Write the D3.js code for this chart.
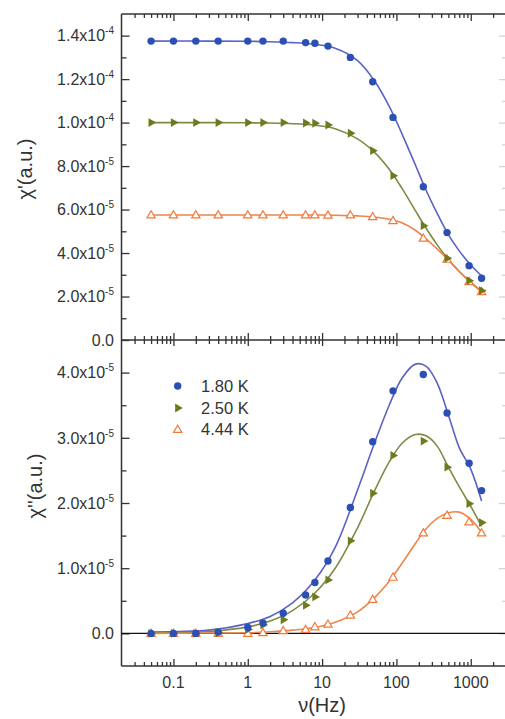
<!DOCTYPE html>
<html>
<head>
<meta charset="utf-8">
<script src="https://cdn.jsdelivr.net/npm/d3@7"></script>
<style>
  body { margin: 0; background: #fff; }
  text { font-family: "Liberation Sans", Arial, sans-serif; fill: #333; }
</style>
</head>
<body>
<svg id="chart" width="505" height="719"></svg>
<script>
// Measured frequencies (Hz)
const freqs = [0.05, 0.1, 0.2, 0.4, 1, 1.6, 3, 6, 8, 12, 24, 48, 90, 230, 480, 950, 1400];
const temps = ["1.80 K", "2.50 K", "4.44 K"];

// In-phase susceptibility chi' (units of 1e-5)
const chiReal180 = [13.75, 13.75, 13.75, 13.75, 13.75, 13.75, 13.75, 13.68, 13.65, 13.52, 13.0, 11.88, 10.24, 7.05, 4.94, 3.42, 2.84];
const chiReal250 = [10.0, 10.0, 10.0, 10.0, 10.0, 10.0, 10.0, 9.98, 9.97, 9.89, 9.51, 8.71, 7.56, 5.26, 3.76, 2.73, 2.27];
const chiReal444 = [5.75, 5.75, 5.75, 5.75, 5.75, 5.75, 5.75, 5.75, 5.75, 5.74, 5.75, 5.67, 5.49, 4.68, 3.71, 2.68, 2.22];

// Out-of-phase susceptibility chi'' (units of 1e-5)
const chiImag180 = [0.0, 0.0, 0.0, 0.02, 0.09, 0.16, 0.31, 0.59, 0.78, 1.11, 1.93, 2.94, 3.72, 3.97, 3.38, 2.61, 2.19];
const chiImag250 = [0.0, 0.0, 0.0, 0.01, 0.06, 0.13, 0.21, 0.43, 0.56, 0.82, 1.42, 2.15, 2.73, 2.95, 2.55, 1.99, 1.70];
const chiImag444 = [0.0, 0.0, 0.0, 0.0, 0.0, 0.01, 0.04, 0.06, 0.10, 0.14, 0.28, 0.52, 0.86, 1.54, 1.81, 1.71, 1.54];

// Fitted relaxation curves, sampled at these frequencies
const fitFreqs = [0.05, 0.3, 1, 2, 4, 8, 15, 30, 50, 80, 120, 180, 250, 350, 500, 700, 1000, 1400];
const fitReal180 = [13.75, 13.75, 13.74, 13.72, 13.68, 13.60, 13.42, 12.85, 11.95, 10.75, 9.45, 8.05, 6.9, 5.85, 4.85, 4.1, 3.45, 2.95];
const fitReal250 = [10.0, 10.0, 9.99, 9.98, 9.95, 9.88, 9.72, 9.25, 8.65, 7.85, 6.95, 5.95, 5.15, 4.4, 3.7, 3.15, 2.65, 2.25];
const fitReal444 = [5.75, 5.75, 5.75, 5.75, 5.75, 5.75, 5.74, 5.71, 5.66, 5.55, 5.38, 5.05, 4.65, 4.2, 3.68, 3.15, 2.65, 2.2];
const fitImag180 = [0.02, 0.05, 0.15, 0.26, 0.47, 0.82, 1.32, 2.2, 2.9, 3.5, 3.92, 4.13, 4.1, 3.85, 3.35, 2.85, 2.52, 2.03];
const fitImag250 = [0.01, 0.03, 0.1, 0.19, 0.35, 0.62, 1.0, 1.62, 2.17, 2.63, 2.92, 3.05, 3.03, 2.88, 2.55, 2.25, 1.95, 1.64];
const fitImag444 = [0.0, 0.005, 0.01, 0.025, 0.05, 0.09, 0.17, 0.33, 0.54, 0.8, 1.08, 1.38, 1.6, 1.76, 1.85, 1.86, 1.75, 1.55];

// Axis ticks
const xMajor = [0.1, 1, 10, 100, 1000];
const xLabels = ["0.1", "1", "10", "100", "1000"];
const topMajor = [0, 2, 4, 6, 8, 10, 12, 14];
const topMinor = [1, 3, 5, 7, 9, 11, 13];
const botMajor = [0, 1, 2, 3, 4];
const botMinor = [0.5, 1.5, 2.5, 3.5];

const markerColors = ["#2b4fb3", "#6d7a1d", "#f27a38"];
const lineColors = ["#5a62c6", "#7f8b45", "#f0844a"];

const svg = d3.select("#chart");
const axisColor = "#333";

const x = d3.scaleLog().domain([0.02, 3000]).range([121.5, 506.2]);
const yTop = d3.scaleLinear().domain([0, 15]).range([340, 13.9]);
const yBot = d3.scaleLinear().domain([-0.5, 4.5]).range([666, 340]);

// minor log ticks 2..9 in each decade
const xMinor = [];
[0.01, 0.1, 1, 10, 100, 1000].forEach(d => {
  for (let k = 2; k <= 9; k++) {
    const v = k * d;
    if (v > 0.02 && v < 3000) xMinor.push(v);
  }
});

function styleAxis(g, color) {
  g.selectAll(".domain").remove();
  g.selectAll(".tick line").attr("stroke", color || axisColor).attr("stroke-width", 1.3);
  g.selectAll(".tick text").remove();
}

function xTicks(y, axisFn, size, values) {
  svg.append("g").attr("transform", `translate(0,${y})`)
    .call(axisFn(x).tickValues(values).tickSize(size).tickFormat(""))
    .call(g => styleAxis(g));
}
function yTicks(scale, xPos, axisFn, size, values, color) {
  svg.append("g").attr("transform", `translate(${xPos},0)`)
    .call(axisFn(scale).tickValues(values).tickSize(size).tickFormat(""))
    .call(g => styleAxis(g, color));
}

// x ticks: top border (down), shared axis (both ways), bottom axis (up)
xTicks(yTop.range()[1], d3.axisBottom, 7, xMajor);
xTicks(yTop.range()[1], d3.axisBottom, 4, xMinor);
xTicks(340, d3.axisBottom, 6, xMajor);
xTicks(340, d3.axisBottom, 4, xMinor);
xTicks(340, d3.axisTop, 7, xMajor);
xTicks(340, d3.axisTop, 4, xMinor);
xTicks(666, d3.axisTop, 7, xMajor);
xTicks(666, d3.axisTop, 4, xMinor);

// y ticks pointing inward on the left, faint ones on the right edge
yTicks(yTop, 121.5, d3.axisRight, 8, topMajor);
yTicks(yTop, 121.5, d3.axisRight, 5, topMinor);
yTicks(yBot, 121.5, d3.axisRight, 8, botMajor);
yTicks(yBot, 121.5, d3.axisRight, 5, botMinor);
yTicks(yTop, 506, d3.axisLeft, 7, topMajor, "#d4d4d4");
yTicks(yTop, 506, d3.axisLeft, 4, topMinor, "#d4d4d4");
yTicks(yBot, 506, d3.axisLeft, 7, botMajor, "#d4d4d4");
yTicks(yBot, 506, d3.axisLeft, 4, botMinor, "#d4d4d4");

// frame lines
const frame = svg.append("g").attr("stroke", axisColor).attr("stroke-width", 1.5).attr("fill", "none");
frame.append("line").attr("x1", x.range()[0]).attr("x2", x.range()[0]).attr("y1", yTop.range()[1]).attr("y2", yBot.range()[0]);
frame.append("line").attr("x1", x.range()[0]).attr("x2", x.range()[1]).attr("y1", yTop.range()[1]).attr("y2", yTop.range()[1]);
frame.append("line").attr("x1", x.range()[0]).attr("x2", x.range()[1]).attr("y1", 340).attr("y2", 340);
frame.append("line").attr("x1", x.range()[0]).attr("x2", x.range()[1]).attr("y1", yBot.range()[0]).attr("y2", yBot.range()[0]);
// zero line in the lower panel
svg.append("line").attr("x1", x.range()[0]).attr("x2", x.range()[1])
  .attr("y1", yBot(0)).attr("y2", yBot(0)).attr("stroke", "#111").attr("stroke-width", 1.4);

// y tick labels with exponent superscripts
function yLabel(scale, v, mant, exp) {
  const t = svg.append("text").attr("x", 114).attr("y", scale(v)).attr("dy", "0.36em")
    .attr("text-anchor", "end").attr("font-size", 16);
  t.append("tspan").text(mant);
  if (exp) {
    t.append("tspan").attr("font-size", 10).attr("dy", -7).text(exp);
  }
}
topMajor.forEach(v => {
  if (v === 0) yLabel(yTop, v, "0.0");
  else if (v >= 10) yLabel(yTop, v, (v / 10).toFixed(1) + "x10", "-4");
  else yLabel(yTop, v, v.toFixed(1) + "x10", "-5");
});
botMajor.forEach(v => {
  if (v === 0) yLabel(yBot, v, "0.0");
  else yLabel(yBot, v, v.toFixed(1) + "x10", "-5");
});

// x tick labels
xMajor.forEach((v, i) => {
  svg.append("text").attr("x", x(v)).attr("y", 688).attr("text-anchor", "middle")
    .attr("font-size", 16).text(xLabels[i]);
});

// axis titles
svg.append("text").attr("x", x(10)).attr("y", 712).attr("text-anchor", "middle")
  .attr("font-size", 20).text("\u03bd(Hz)");
svg.append("text").attr("transform", "translate(32,169) rotate(-90)").attr("text-anchor", "middle")
  .attr("font-size", 20).text("\u03c7'(a.u.)");
svg.append("text").attr("transform", "translate(42,486) rotate(-90)").attr("text-anchor", "middle")
  .attr("font-size", 20).text("\u03c7''(a.u.)");

// fitted curves
const realFits = [fitReal180, fitReal250, fitReal444];
const imagFits = [fitImag180, fitImag250, fitImag444];
const realData = [chiReal180, chiReal250, chiReal444];
const imagData = [chiImag180, chiImag250, chiImag444];

function drawFit(scale, vals, color) {
  const line = d3.line().x((d, i) => x(fitFreqs[i])).y(d => scale(d)).curve(d3.curveCatmullRom.alpha(0.5));
  svg.append("path").datum(vals).attr("d", line).attr("fill", "none")
    .attr("stroke", color).attr("stroke-width", 1.6);
}
realFits.forEach((v, i) => drawFit(yTop, v, lineColors[i]));
imagFits.forEach((v, i) => drawFit(yBot, v, lineColors[i]));

// markers
function marker(g, k, cx, cy) {
  if (k === 0) {
    g.append("circle").attr("cx", cx).attr("cy", cy).attr("r", 3.7).attr("fill", markerColors[0]);
  } else if (k === 1) {
    g.append("path").attr("d", d3.symbol(d3.symbolTriangle, 34)())
      .attr("transform", `translate(${cx},${cy}) rotate(90)`).attr("fill", markerColors[1]);
  } else {
    g.append("path").attr("d", d3.symbol(d3.symbolTriangle, 30)())
      .attr("transform", `translate(${cx},${cy + 0.5})`).attr("fill", "#fff")
      .attr("stroke", markerColors[2]).attr("stroke-width", 1.2);
  }
}
const marks = svg.append("g");
[2, 1, 0].forEach(k => {
  realData[k].forEach((v, i) => marker(marks, k, x(freqs[i]), yTop(v)));
  imagData[k].forEach((v, i) => marker(marks, k, x(freqs[i]), yBot(v)));
});

// legend
const legendY = [386, 408, 429.5];
temps.forEach((t, k) => {
  marker(svg, k, 177.7, legendY[k]);
  svg.append("text").attr("x", 201).attr("y", legendY[k]).attr("dy", "0.36em")
    .attr("font-size", 16.5).text(t);
});
</script>
</body>
</html>
